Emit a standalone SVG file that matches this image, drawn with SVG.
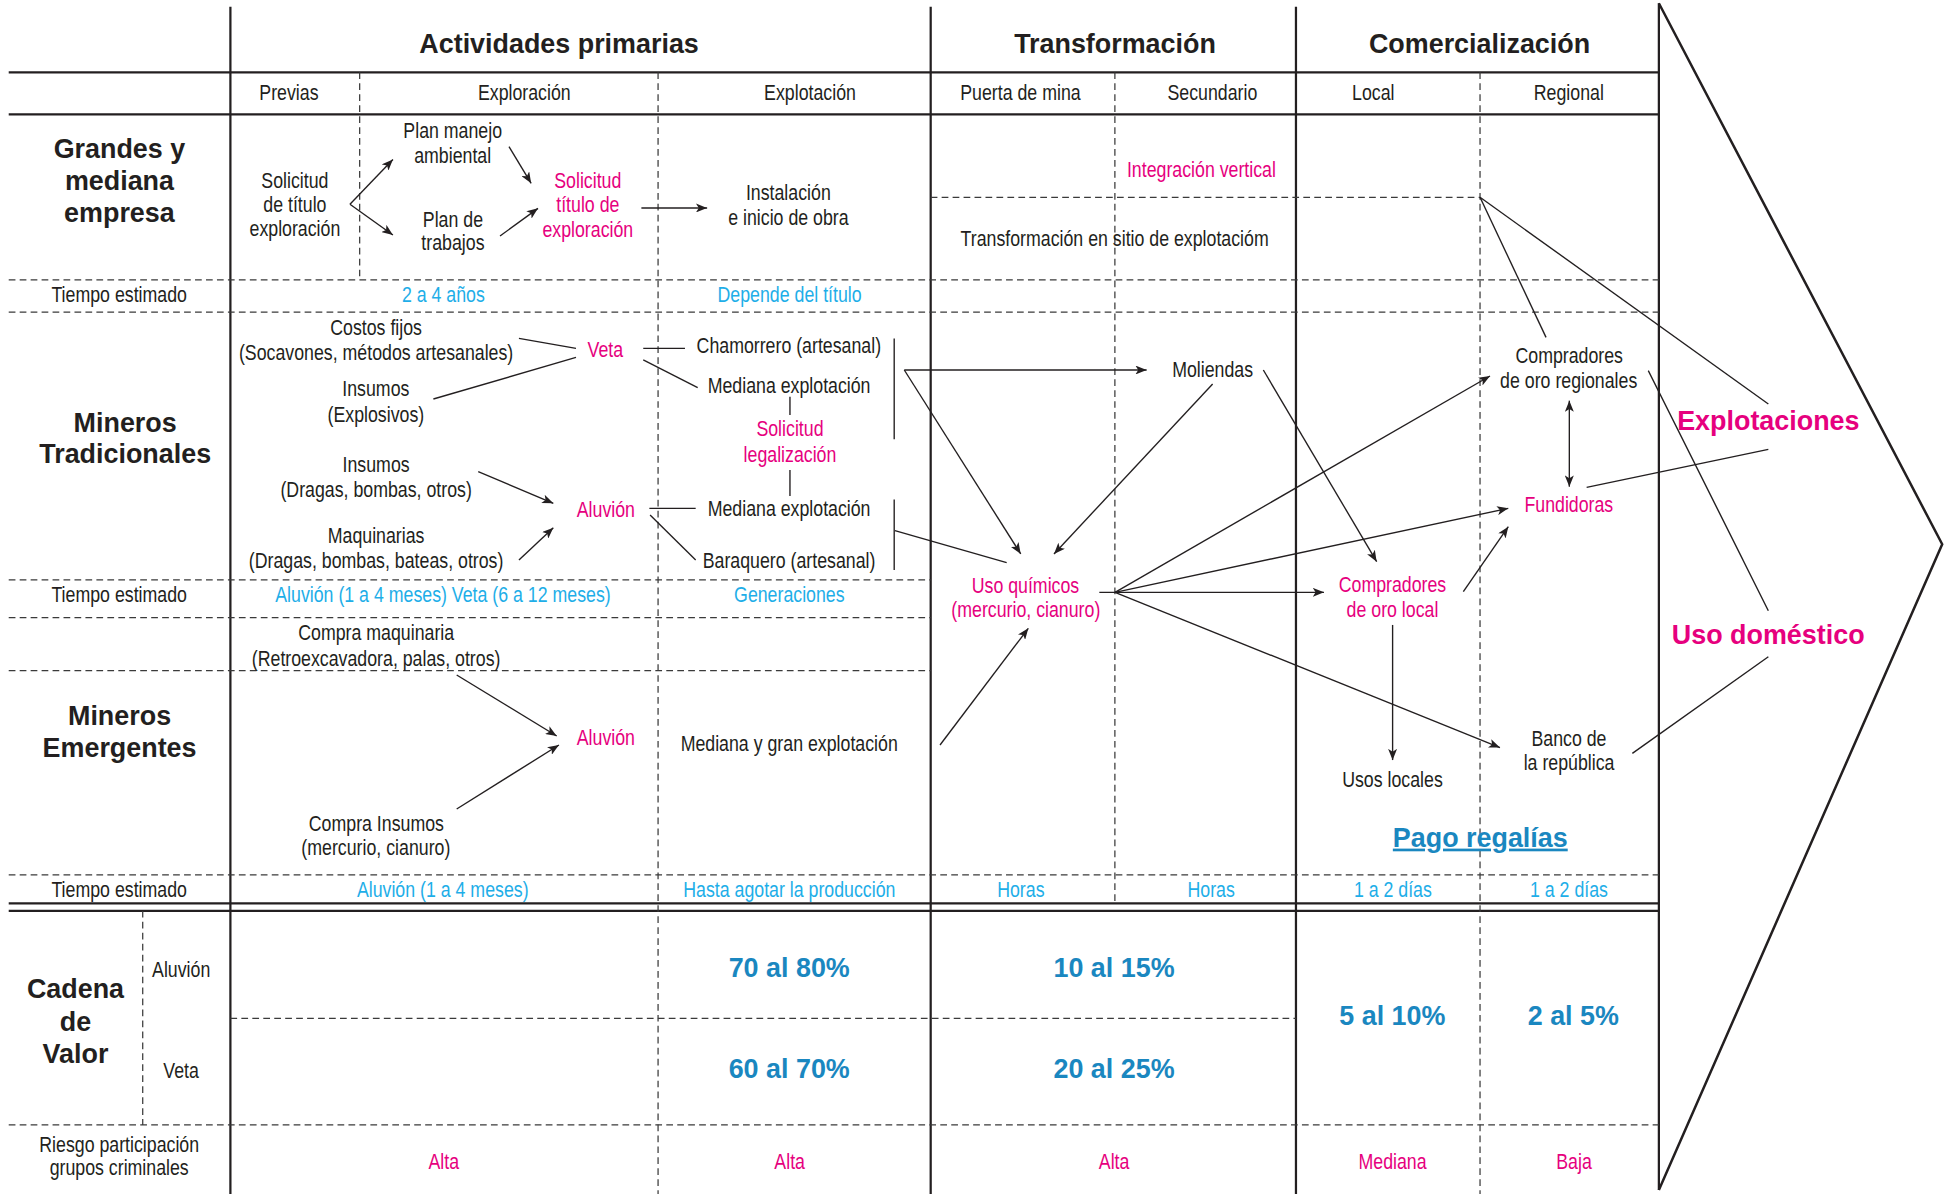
<svg xmlns="http://www.w3.org/2000/svg" width="1954" height="1194" viewBox="0 0 1954 1194">
<style>
.n{font-family:"Liberation Sans Narrow","Liberation Sans",Arial,sans-serif;font-size:17.4px;text-anchor:middle;fill:#231f20;transform-box:fill-box;transform-origin:center;transform:scaleX(0.82)}
.bd{font-family:"Liberation Sans",Arial,sans-serif;font-weight:bold;font-size:21.6px;text-anchor:middle;fill:#231f20}
.m{fill:#e6007e}
.cy{fill:#1eaee8}
.bl{fill:#1a87c0}
.k{stroke:#231f20;stroke-width:1.8;fill:none}
.d{stroke:#3a3a3a;stroke-width:1;stroke-dasharray:5.4 3.4;fill:none}
.ln{stroke:#231f20;stroke-width:1.1;fill:none}
.ar{marker-end:url(#ah)}
.ar2{marker-start:url(#ah);marker-end:url(#ah)}
</style>
<defs>
<marker id="ah" viewBox="0 0 10 8" markerUnits="userSpaceOnUse" markerWidth="9" markerHeight="7.2" refX="10" refY="4" orient="auto-start-reverse">
<path d="M0,0 L10,4 L0,8 L2.5,4 Z" fill="#231f20"/>
</marker>
</defs>
<rect width="1954" height="1194" fill="#ffffff"/>
<g transform="scale(1.2454)">
<g id="grid">
<line class="k" x1="185" y1="5.4" x2="185" y2="959"/>
<line class="k" x1="747.3" y1="5.4" x2="747.3" y2="959"/>
<line class="k" x1="1040.6" y1="5.4" x2="1040.6" y2="959"/>
<path class="k" d="M1332,2.6 L1332,955.5"/>
<line class="k" x1="7" y1="58.1" x2="1332" y2="58.1"/>
<line class="k" x1="7" y1="91.8" x2="1332" y2="91.8"/>
<line class="k" x1="7" y1="725.3" x2="1332" y2="725.3"/>
<line class="k" x1="7" y1="731.4" x2="1332" y2="731.4"/>
<line class="d" x1="288.8" y1="58.1" x2="288.8" y2="224.8"/>
<line class="d" x1="528.4" y1="58.1" x2="528.4" y2="959"/>
<line class="d" x1="895.2" y1="58.1" x2="895.2" y2="725.3"/>
<line class="d" x1="1188.4" y1="58.1" x2="1188.4" y2="959"/>
<line class="d" x1="114.6" y1="731.4" x2="114.6" y2="903.3"/>
<line class="d" x1="747.3" y1="158.4" x2="1188.4" y2="158.4"/>
<line class="d" x1="7" y1="224.8" x2="1332" y2="224.8"/>
<line class="d" x1="7" y1="250.7" x2="1332" y2="250.7"/>
<line class="d" x1="7" y1="465.7" x2="747.3" y2="465.7"/>
<line class="d" x1="7" y1="495.9" x2="747.3" y2="495.9"/>
<line class="d" x1="7" y1="538.5" x2="747.3" y2="538.5"/>
<line class="d" x1="7" y1="702.5" x2="1332" y2="702.5"/>
<line class="d" x1="185" y1="817.7" x2="1040.6" y2="817.7"/>
<line class="d" x1="7" y1="903.3" x2="1332" y2="903.3"/>
</g>
<g id="chevron">
<path d="M1332,2.6 L1559.5,437 L1332,955.5" stroke="#231f20" stroke-width="2" fill="none" stroke-linejoin="miter"/>
</g>
<g id="headers">
<text class="bd" x="448.9" y="42.3">Actividades primarias</text>
<text class="bd" x="895.3" y="42.3">Transformación</text>
<text class="bd" x="1188" y="42.3">Comercialización</text>
<text class="n" x="232" y="80.3">Previas</text>
<text class="n" x="421" y="80.3">Exploración</text>
<text class="n" x="650.4" y="80.3">Explotación</text>
<text class="n" x="819.3" y="80.3">Puerta de mina</text>
<text class="n" x="973.5" y="80.3">Secundario</text>
<text class="n" x="1102.7" y="80.3">Local</text>
<text class="n" x="1259.7" y="80.3">Regional</text>
</g>
<g id="row-labels">
<text class="bd" x="95.9" y="127">Grandes y</text>
<text class="bd" x="95.9" y="152.6">mediana</text>
<text class="bd" x="95.9" y="178">empresa</text>
<text class="bd" x="100.5" y="346.7">Mineros</text>
<text class="bd" x="100.5" y="372">Tradicionales</text>
<text class="bd" x="96" y="582">Mineros</text>
<text class="bd" x="96" y="607.5">Emergentes</text>
<text class="bd" x="60.6" y="801">Cadena</text>
<text class="bd" x="60.6" y="827.6">de</text>
<text class="bd" x="60.6" y="853.3">Valor</text>
<text class="n" x="95.7" y="242.2">Tiempo estimado</text>
<text class="n" x="95.7" y="483.1">Tiempo estimado</text>
<text class="n" x="95.7" y="720">Tiempo estimado</text>
<text class="n" x="145.5" y="784.2">Aluvión</text>
<text class="n" x="145.3" y="865.8">Veta</text>
<text class="n" x="95.7" y="924.7">Riesgo participación</text>
<text class="n" x="95.7" y="943.5">grupos criminales</text>
</g>
<g id="node-solicitud-titulo">
<text class="n" x="236.8" y="151">Solicitud</text>
<text class="n" x="236.8" y="170.5">de título</text>
<text class="n" x="236.8" y="189.5">exploración</text>
</g>
<g id="node-plan-manejo">
<text class="n" x="363.5" y="111">Plan manejo</text>
<text class="n" x="363.5" y="130.6">ambiental</text>
</g>
<g id="node-plan-trabajos">
<text class="n" x="363.7" y="182">Plan de</text>
<text class="n" x="363.7" y="201">trabajos</text>
</g>
<g id="node-solicitud-exploracion">
<text class="n m" x="472" y="151">Solicitud</text>
<text class="n m" x="472" y="170.5">título de</text>
<text class="n m" x="472" y="190">exploración</text>
</g>
<g id="node-instalacion">
<text class="n" x="633" y="160.6">Instalación</text>
<text class="n" x="633" y="180.7">e inicio de obra</text>
</g>
<g id="node-integracion">
<text class="n m" x="964.7" y="141.9">Integración vertical</text>
</g>
<g id="node-transformacion-sitio">
<text class="n" x="895" y="197.5">Transformación en sitio de explotacióm</text>
</g>
<g id="tiempo-1">
<text class="n cy" x="356" y="242.2">2 a 4 años</text>
<text class="n cy" x="634" y="242.2">Depende del título</text>
</g>
<g id="node-costos-fijos">
<text class="n" x="302" y="269">Costos fijos</text>
<text class="n" x="302" y="289">(Socavones, métodos artesanales)</text>
</g>
<g id="node-insumos-explosivos">
<text class="n" x="301.8" y="318">Insumos</text>
<text class="n" x="301.8" y="338.6">(Explosivos)</text>
</g>
<g id="node-insumos-dragas">
<text class="n" x="302" y="378.7">Insumos</text>
<text class="n" x="302" y="398.8">(Dragas, bombas, otros)</text>
</g>
<g id="node-maquinarias">
<text class="n" x="302" y="436.3">Maquinarias</text>
<text class="n" x="302" y="456.3">(Dragas, bombas, bateas, otros)</text>
</g>
<g id="node-veta"><text class="n m" x="486" y="287">Veta</text></g>
<g id="node-aluvion-t"><text class="n m" x="486.5" y="414.9">Aluvión</text></g>
<g id="node-chamorrero"><text class="n" x="633.4" y="283.2">Chamorrero (artesanal)</text></g>
<g id="node-mediana-1"><text class="n" x="633.6" y="315.8">Mediana explotación</text></g>
<g id="node-legalizacion">
<text class="n m" x="634.3" y="350">Solicitud</text>
<text class="n m" x="634.3" y="370.7">legalización</text>
</g>
<g id="node-mediana-2"><text class="n" x="633.6" y="414.3">Mediana explotación</text></g>
<g id="node-baraquero"><text class="n" x="633.6" y="455.8">Baraquero (artesanal)</text></g>
<g id="node-moliendas"><text class="n" x="973.7" y="303">Moliendas</text></g>
<g id="node-uso-quimicos">
<text class="n m" x="823.4" y="475.9">Uso químicos</text>
<text class="n m" x="823.7" y="495.2">(mercurio, cianuro)</text>
</g>
<g id="node-compradores-regionales">
<text class="n" x="1260" y="291.7">Compradores</text>
<text class="n" x="1259.6" y="311.8">de oro regionales</text>
</g>
<g id="node-fundidoras"><text class="n m" x="1259.7" y="411.4">Fundidoras</text></g>
<g id="node-compradores-local">
<text class="n m" x="1118.1" y="475.6">Compradores</text>
<text class="n m" x="1118.1" y="495.2">de oro local</text>
</g>
<g id="tiempo-2">
<text class="n cy" x="355.7" y="483.1">Aluvión (1 a 4 meses) Veta (6 a 12 meses)</text>
<text class="n cy" x="633.8" y="483.1">Generaciones</text>
</g>
<g id="node-compra-maquinaria">
<text class="n" x="302" y="513.9">Compra maquinaria</text>
<text class="n" x="302" y="534.8">(Retroexcavadora, palas, otros)</text>
</g>
<g id="node-aluvion-e"><text class="n m" x="486.5" y="598.2">Aluvión</text></g>
<g id="node-compra-insumos">
<text class="n" x="302.2" y="667">Compra Insumos</text>
<text class="n" x="301.8" y="686.5">(mercurio, cianuro)</text>
</g>
<g id="node-mediana-gran"><text class="n" x="633.7" y="602.7">Mediana y gran explotación</text></g>
<g id="node-banco">
<text class="n" x="1259.8" y="599">Banco de</text>
<text class="n" x="1259.8" y="618.3">la república</text>
</g>
<g id="node-usos-locales"><text class="n" x="1118.1" y="632.2">Usos locales</text></g>
<g id="node-pago-regalias"><text class="bd bl" x="1188.6" y="679.8" text-decoration="underline">Pago regalías</text></g>
<g id="node-explotaciones"><text class="bd m" x="1419.9" y="345.3">Explotaciones</text></g>
<g id="node-uso-domestico"><text class="bd m" x="1419.8" y="517.1">Uso doméstico</text></g>
<g id="tiempo-3">
<text class="n cy" x="355.5" y="720">Aluvión (1 a 4 meses)</text>
<text class="n cy" x="633.8" y="720">Hasta agotar la producción</text>
<text class="n cy" x="819.7" y="720">Horas</text>
<text class="n cy" x="972.5" y="720">Horas</text>
<text class="n cy" x="1118.4" y="720">1 a 2 días</text>
<text class="n cy" x="1259.8" y="720">1 a 2 días</text>
</g>
<g id="cadena-valor">
<text class="bd bl" x="633.7" y="784.2">70 al 80%</text>
<text class="bd bl" x="894.5" y="784.2">10 al 15%</text>
<text class="bd bl" x="633.7" y="865.8">60 al 70%</text>
<text class="bd bl" x="894.5" y="865.8">20 al 25%</text>
<text class="bd bl" x="1118" y="823">5 al 10%</text>
<text class="bd bl" x="1263.3" y="823">2 al 5%</text>
</g>
<g id="riesgo">
<text class="n m" x="356.3" y="938.6">Alta</text>
<text class="n m" x="634" y="938.6">Alta</text>
<text class="n m" x="894.5" y="938.6">Alta</text>
<text class="n m" x="1118.1" y="938.3">Mediana</text>
<text class="n m" x="1263.8" y="938.3">Baja</text>
</g>
<g id="connectors">
<line class="ln ar" x1="281" y1="164" x2="315.5" y2="128"/>
<line class="ln ar" x1="281" y1="164" x2="315.5" y2="188.7"/>
<line class="ln ar" x1="408.7" y1="117.8" x2="426.5" y2="147.2"/>
<line class="ln ar" x1="401.5" y1="189.5" x2="432" y2="167.3"/>
<line class="ln ar" x1="515" y1="167" x2="567.8" y2="167"/>
<line class="ln" x1="416.7" y1="271.7" x2="462.5" y2="279.7"/>
<line class="ln" x1="348" y1="320.4" x2="462.5" y2="287"/>
<line class="ln ar" x1="384" y1="378.7" x2="444.3" y2="404.1"/>
<line class="ln ar" x1="416.7" y1="449.7" x2="444.3" y2="423.7"/>
<line class="ln" x1="516.5" y1="279.7" x2="550" y2="279.7"/>
<line class="ln" x1="516.5" y1="289" x2="560.2" y2="311.3"/>
<line class="ln" x1="521.4" y1="408.2" x2="558.6" y2="408.2"/>
<line class="ln" x1="522" y1="413.5" x2="558.6" y2="449.7"/>
<line class="ln" x1="634.3" y1="318.5" x2="634.3" y2="333.2"/>
<line class="ln" x1="634.3" y1="377.4" x2="634.3" y2="398.3"/>
<line class="ln" x1="718" y1="271.7" x2="718" y2="352.7"/>
<line class="ln" x1="718" y1="401" x2="718" y2="457.7"/>
<line class="ln ar" x1="726.1" y1="297.1" x2="920.7" y2="297.1"/>
<line class="ln ar" x1="726.1" y1="297.1" x2="819.6" y2="444.8"/>
<line class="ln" x1="718.6" y1="426.1" x2="808.3" y2="451.8"/>
<line class="ln ar" x1="973.7" y1="308.3" x2="846.3" y2="444.8"/>
<line class="ln ar" x1="1014.4" y1="297.1" x2="1105.4" y2="451"/>
<line class="ln ar" x1="895.3" y1="475.6" x2="1196.4" y2="301.9"/>
<line class="ln ar" x1="895.3" y1="475.6" x2="1211.1" y2="408.2"/>
<line class="ln ar" x1="882.7" y1="475.6" x2="1063.1" y2="475.6"/>
<line class="ln ar" x1="895.3" y1="475.6" x2="1204.4" y2="600.3"/>
<line class="ln ar" x1="754.8" y1="598.2" x2="825.7" y2="504.5"/>
<line class="ln ar" x1="366.7" y1="542" x2="447" y2="591"/>
<line class="ln ar" x1="366.7" y1="649.6" x2="448.8" y2="598.2"/>
<line class="ln ar" x1="1118.2" y1="501.8" x2="1118.2" y2="610.3"/>
<line class="ln ar" x1="1175" y1="475.1" x2="1211.1" y2="422.9"/>
<line class="ln ar2" x1="1260.1" y1="321.7" x2="1260.1" y2="390.8"/>
<line class="ln" x1="1188.4" y1="158.4" x2="1241.4" y2="270.9"/>
<line class="ln" x1="1188.4" y1="158.4" x2="1419.9" y2="324.4"/>
<line class="ln" x1="1274" y1="391.3" x2="1419.9" y2="360.8"/>
<line class="ln" x1="1323.5" y1="297.6" x2="1419.9" y2="490.4"/>
<line class="ln" x1="1419.9" y1="527.3" x2="1310.7" y2="604.9"/>
</g>
</g>
</svg>
